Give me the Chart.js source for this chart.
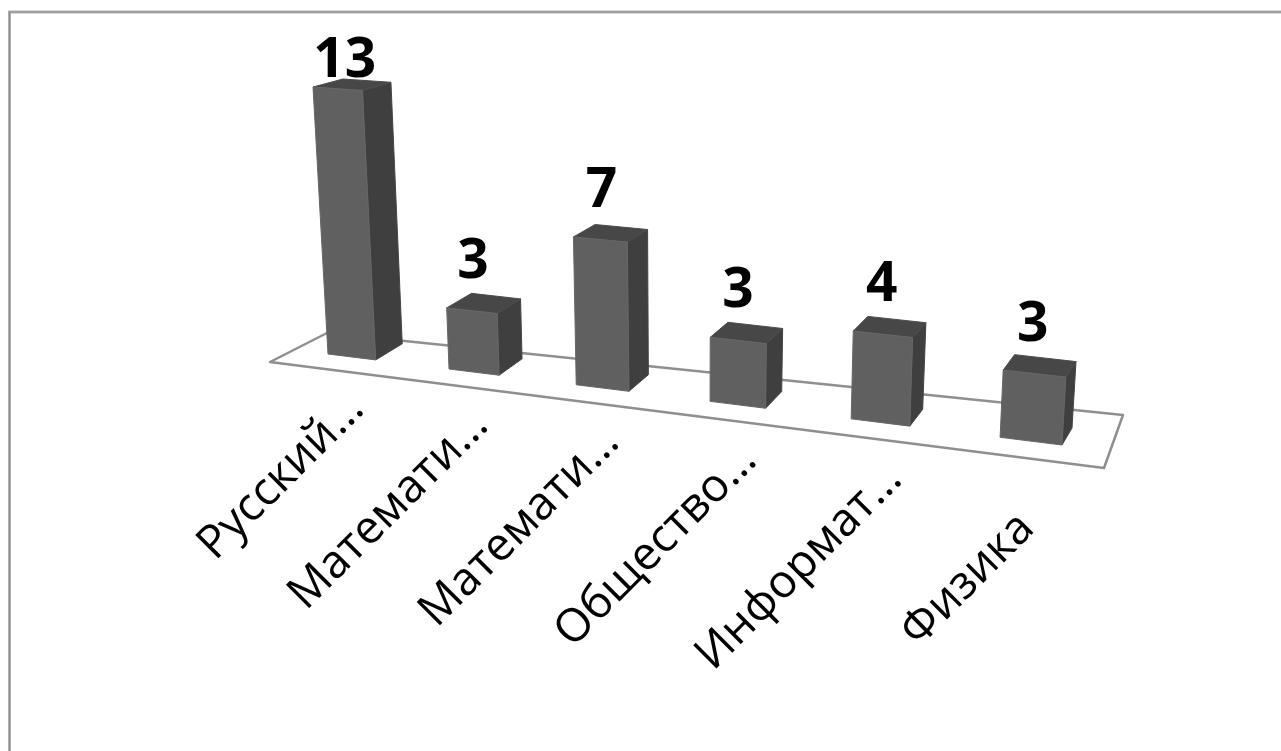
<!DOCTYPE html>
<html lang="ru"><head><meta charset="utf-8">
<script src="https://cdn.jsdelivr.net/npm/chart.js@4"></script>
<style>html,body{margin:0;padding:0;background:#fff}canvas{display:block}</style>
</head><body><canvas id="c" width="1281" height="751"></canvas>
<script>
const categories = ['Русский…','Математи…','Математи…','Обществ\u043E…','Информат…','Физика'];
const values = [13,3,7,3,4,3];
const REF_VALUE = 13;

// perspective of the plot: where the scale's corners land on the page [bottom-left, bottom-right, top-right, top-left]
const FRONT_PLANE = [[328,354],[1062,445],[1079,140],[313,87]];
const BACK_PLANE  = [[356,338],[1072,428],[1090,130],[343,79]];
const FLOOR = [[270,362],[1104,468],[1123,415],[327,333]];
const FRAME = {left:9.5,top:12};

function homography(q){
  const [[x0,y0],[x1,y1],[x2,y2],[x3,y3]] = q;
  const dx1=x1-x2,dx2=x3-x2,sx=x0-x1+x2-x3,dy1=y1-y2,dy2=y3-y2,sy=y0-y1+y2-y3;
  const den=dx1*dy2-dx2*dy1;
  const g=(sx*dy2-dx2*sy)/den,h=(dx1*sy-sx*dy1)/den;
  const a=x1-x0+g*x1,b=x3-x0+h*x3,d=y1-y0+g*y1,e=y3-y0+h*y3;
  return (u,v)=>{const w=g*u+h*v+1;return [(a*u+b*v+x0)/w,(d*u+e*v+y0)/w];};
}
const front=homography(FRONT_PLANE), back=homography(BACK_PLANE);

function poly(ctx,pts,fill,stroke){
  ctx.beginPath();pts.forEach((p,i)=>i?ctx.lineTo(p[0],p[1]):ctx.moveTo(p[0],p[1]));ctx.closePath();
  if(fill){ctx.fillStyle=fill;ctx.fill();}
  if(stroke){ctx.strokeStyle=stroke;ctx.lineWidth=1;ctx.stroke();}
}

const perspective={
  id:'perspective',
  beforeDraw(chart){
    const ctx=chart.ctx;ctx.save();
    ctx.fillStyle='#fff';ctx.fillRect(0,0,chart.width,chart.height);
    const edge=(w,col)=>{ctx.strokeStyle=col;ctx.lineWidth=w;ctx.beginPath();
      ctx.moveTo(FRAME.left,chart.height);ctx.lineTo(FRAME.left,FRAME.top);ctx.lineTo(chart.width,FRAME.top);ctx.stroke();};
    edge(3,'#b4b4b4');edge(1.2,'#8a8a8a');
    ctx.restore();
  },
  beforeDatasetDraw(chart,args){
    const ctx=chart.ctx,meta=args.meta,ys=chart.scales.y,els=meta.data;
    const x0=els[0].x-els[0].width/2,x1=els[els.length-1].x+els[els.length-1].width/2;
    const y0=ys.getPixelForValue(0),y1=ys.getPixelForValue(REF_VALUE);
    const U=x=>(x-x0)/(x1-x0),V=y=>(y-y0)/(y1-y0);
    ctx.save();
    ctx.lineJoin='round';
    ctx.beginPath();poly(ctx,FLOOR,null,null);
    ctx.strokeStyle='#8f8f8f';ctx.lineWidth=2.5;ctx.stroke();
    els.forEach((el,i)=>{
      const l=U(el.x-el.width/2),r=U(el.x+el.width/2),t=V(el.y),b=V(el.base);
      const fBL=front(l,b),fBR=front(r,b),fTR=front(r,t),fTL=front(l,t);
      const bBR=back(r,b),bTR=back(r,t),bTL=back(l,t);
      poly(ctx,[fBR,bBR,bTR,fTR],'#3f3f3f','#454545');
      poly(ctx,[fTL,fTR,bTR,bTL],'#474747','#4c4c4c');
      poly(ctx,[fBL,fBR,fTR,fTL],'#606060','#666666');
      // value label
      const cx=(fTL[0]+fTR[0]+fBL[0]+fBR[0])/4, topY=(fTL[1]+fTR[1])/2;
      ctx.fillStyle='#000';ctx.font='bold 55px "Open Sans"';ctx.textAlign='center';ctx.textBaseline='alphabetic';
      ctx.fillText(String(values[i]),cx,Math.max(77,topY-33));
    });
    // category labels
    ctx.font='46px "Open Sans"';ctx.fillStyle='#000';ctx.textAlign='right';ctx.textBaseline='alphabetic';
    els.forEach((el,i)=>{
      const c=front(U(el.x),V(el.base));
      const label=chart.scales.x.getLabelForValue(i);
      const full=!label.endsWith('…');
      const ex=c[0]+14+(c[0]-352)*0.018+(full?-21:0), ey=c[1]+54+(c[0]-352)*0.009+(full?29:0);
      ctx.save();ctx.translate(ex,ey);ctx.rotate(-Math.PI/4);ctx.fillText(label,0,0);ctx.restore();
    });
    ctx.restore();
    return false;
  }
};

new Chart(document.getElementById('c'),{
  type:'bar',
  data:{labels:categories,datasets:[{data:values,backgroundColor:'#606060',barPercentage:0.4,categoryPercentage:1}]},
  options:{
    responsive:false,animation:false,devicePixelRatio:1,
    plugins:{legend:{display:false},tooltip:{enabled:false}},
    scales:{
      x:{grid:{display:false},border:{display:false},ticks:{display:false}},
      y:{min:0,max:REF_VALUE,display:false}
    }
  },
  plugins:[perspective]
});
</script></body></html>
